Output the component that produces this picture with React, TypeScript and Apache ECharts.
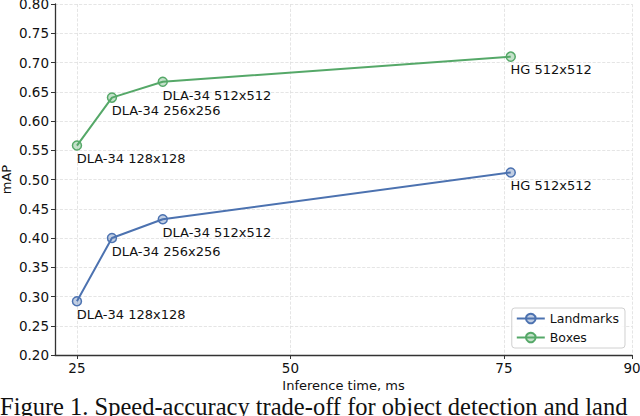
import React, { useEffect, useRef } from 'react';
import * as echarts from 'echarts';

const times = [25, 29.1, 35.05, 75.8];
const pointLabels = ['DLA-34 128x128', 'DLA-34 256x256', 'DLA-34 512x512', 'HG 512x512'];
const landmarks = [0.292, 0.4, 0.432, 0.512];
const boxes = [0.558, 0.64, 0.667, 0.71];
const xTicks = [25, 50, 75, 90];
const caption = 'Figure 1. Speed-accuracy trade-off for object detection and land';

const BLUE = '#4c72b0';
const GREEN = '#55a868';
const FONT = 'DejaVu Sans';

const makeSeries = (name: string, values: number[], color: string, fill: string) => ({
    name,
    type: 'line',
    data: times.map((t, i) => [t, values[i]]),
    color,
    symbol: 'circle',
    symbolSize: 9,
    lineStyle: { width: 2, color },
    itemStyle: { color: fill, borderColor: color, borderWidth: 1.5 },
    label: {
        show: true,
        position: [5, 12],
        align: 'left',
        verticalAlign: 'top',
        fontFamily: FONT,
        fontSize: 13,
        color: '#111',
        formatter: (p: any) => pointLabels[p.dataIndex],
    },
});

export default function App() {
    const chartRef = useRef<HTMLDivElement>(null);

    useEffect(() => {
        if (!chartRef.current) return;
        const chart = echarts.init(chartRef.current, null, { renderer: 'svg' });

        chart.setOption({
            animation: false,
            textStyle: { fontFamily: FONT },
            grid: { left: 55, right: 8, top: 4, bottom: 61, outerBoundsMode: 'none', containLabel: false },
            legend: {
                data: ['Landmarks', 'Boxes'],
                orient: 'vertical',
                right: 15,
                bottom: 68,
                itemWidth: 28,
                itemHeight: 12,
                itemGap: 6,
                padding: [4, 6, 4, 4],
                borderColor: '#d0d0d0',
                borderWidth: 1,
                borderRadius: 3,
                backgroundColor: 'rgba(255,255,255,0.85)',
                textStyle: { fontFamily: FONT, fontSize: 12.5, color: '#111' },
            },
            xAxis: {
                type: 'value',
                min: 22.43,
                max: 90,
                name: 'Inference time, ms',
                nameLocation: 'middle',
                nameGap: 24,
                nameMoveOverlap: false,
                nameTextStyle: { fontFamily: FONT, fontSize: 13, color: '#111' },
                axisLine: { lineStyle: { color: '#333', width: 1.3 } },
                axisTick: { show: true, length: 4, customValues: xTicks, lineStyle: { color: '#333' } },
                axisLabel: { customValues: xTicks, fontFamily: FONT, fontSize: 13.5, color: '#111', margin: 6 },
                splitLine: { show: true, lineStyle: { type: 'dashed', color: '#dedede', width: 0.8 } },
            },
            yAxis: {
                type: 'value',
                min: 0.2,
                max: 0.8,
                interval: 0.05,
                name: 'mAP',
                nameLocation: 'middle',
                nameGap: 42,
                nameMoveOverlap: false,
                nameTextStyle: { fontFamily: FONT, fontSize: 13, color: '#111' },
                axisLine: { show: true, lineStyle: { color: '#333', width: 1.3 } },
                axisTick: { show: true, length: 4, lineStyle: { color: '#333' } },
                axisLabel: {
                    fontFamily: FONT,
                    fontSize: 13.5,
                    color: '#111',
                    margin: 6,
                    formatter: (v: number) => v.toFixed(2),
                },
                splitLine: { show: true, lineStyle: { type: 'dashed', color: '#dedede', width: 0.8 } },
            },
            graphic: [
                {
                    type: 'text',
                    left: 0,
                    top: 394,
                    style: {
                        text: caption,
                        fontFamily: 'Liberation Serif',
                        fontSize: 24.5,
                        lineHeight: 16,
                        fill: '#111',
                    },
                },
            ],
            series: [
                makeSeries('Landmarks', landmarks, BLUE, 'rgba(76,114,176,0.35)'),
                makeSeries('Boxes', boxes, GREEN, 'rgba(85,168,104,0.35)'),
            ],
        });

        return () => chart.dispose();
    }, []);

    return (
        <div
            ref={chartRef}
            style={{ position: 'fixed', left: 0, top: 0, width: 640, height: 416, background: '#fff' }}
        />
    );
}
